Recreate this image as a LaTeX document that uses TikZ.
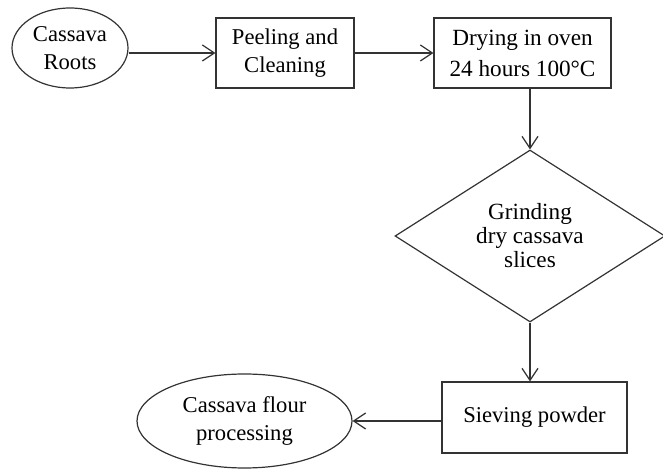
\documentclass[tikz,border=0pt]{standalone}
\usepackage{fontspec}
\setmainfont{Liberation Serif}
\usetikzlibrary{shapes.geometric,arrows.meta}

\begin{document}
\begin{tikzpicture}[x=0.5pt,y=0.5pt,
  every node/.style={inner sep=0pt,align=center,font=\fontsize{11.3}{14}\selectfont},
  flow/.style={draw=black!80,line width=0.6pt,-{Straight Barb[length=6pt,width=8pt]}},
  stepbox/.style={draw=black!80,line width=0.6pt,rectangle,minimum height=35pt},
  oval/.style={draw=black!80,line width=0.6pt,ellipse},
  choice/.style={draw=black!80,line width=0.6pt,diamond,minimum width=135pt,minimum height=86pt}]
\useasboundingbox (0,0) rectangle (663,-469);
\node [oval,minimum width=58pt,minimum height=40pt] (roots) at (70,-48) {Cassava\\Roots};
\node [stepbox,minimum width=69pt] (peel) at (285,-53) {Peeling and\\Cleaning};
\node [stepbox,minimum width=88.5pt,font=\fontsize{11.6}{15.5}\selectfont] (dry) at (522.5,-53) {Drying in oven\\24 hours 100°C};
\node [choice,font=\fontsize{11.6}{12}\selectfont] (grind) at (530,-236) {Grinding\\dry cassava\\slices};
\node [stepbox,minimum width=92.5pt,minimum height=35.5pt] (sieve) at (534.5,-417.5) {Sieving powder};
\node [oval,minimum width=107.5pt,minimum height=47pt] (flour) at (244.5,-421) {Cassava flour\\processing};
\draw [flow] (peel.west -| roots.east) -- (peel.west);
\draw [flow] (peel.east) -- (dry.west);
\draw [flow] (grind.north |- dry.south) -- (grind.north);
\draw [flow] (grind.south) -- (grind.south |- sieve.north);
\draw [flow] (sieve.west |- flour.east) -- (flour.east);
\end{tikzpicture}
\end{document}
